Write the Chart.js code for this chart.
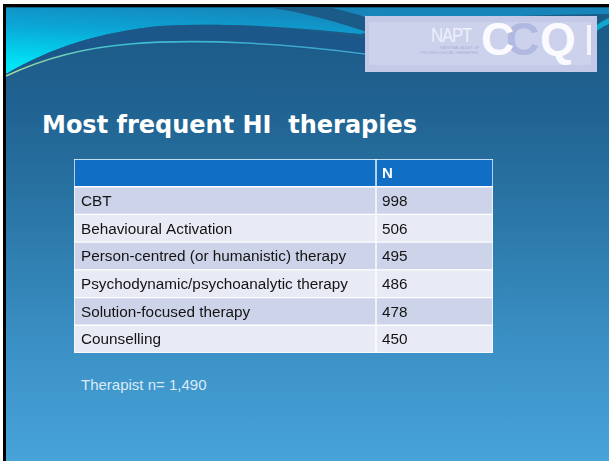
<!DOCTYPE html>
<html>
<head>
<meta charset="utf-8">
<script src="https://cdn.jsdelivr.net/npm/chart.js@4.4.1/dist/chart.umd.min.js"></script>
<style>
  html, body { margin:0; padding:0; background:#fff; width:609px; height:461px; overflow:hidden; }
  #bg { position:absolute; left:0; top:0; }
  #title { position:absolute; left:42px; top:110px; font-family:'DejaVu Sans', sans-serif; font-weight:bold; font-size:24px; line-height:30px; color:#fff; white-space:pre; }
  #foot { position:absolute; left:81px; top:376px; font-family:'Liberation Sans', Arial, sans-serif; font-size:15px; line-height:18px; color:#dbeaf6; white-space:pre; }
  #wrap { position:absolute; left:74px; top:159px; width:419px; height:194px; }
  .logo { position:absolute; font-family:'Liberation Sans', Arial, sans-serif; white-space:pre; }
</style>
</head>
<body>
<svg id="bg" width="609" height="461" viewBox="0 0 609 461">
  <defs>
    <linearGradient id="main" x1="0" y1="0" x2="0" y2="1">
      <stop offset="0" stop-color="#1b5a86"/>
      <stop offset="0.2" stop-color="#1f6190"/>
      <stop offset="0.45" stop-color="#2a76a6"/>
      <stop offset="0.75" stop-color="#3b91c6"/>
      <stop offset="1" stop-color="#47a3d8"/>
    </linearGradient>
    <linearGradient id="cap" x1="0.45" y1="0" x2="0" y2="0.85">
      <stop offset="0" stop-color="#1784ba"/>
      <stop offset="0.45" stop-color="#0aa6d6"/>
      <stop offset="1" stop-color="#00e4f6"/>
    </linearGradient>
    <linearGradient id="line" x1="0" y1="0" x2="1" y2="0">
      <stop offset="0" stop-color="#a6dc98"/>
      <stop offset="0.3" stop-color="#40c0d0"/>
      <stop offset="1" stop-color="#3aa0c8"/>
    </linearGradient>
  </defs>
  <rect x="3" y="4" width="606" height="457" fill="#000"/>
  <rect x="6" y="7.5" width="603" height="454" fill="url(#main)"/>
  <!-- light cap above the arc -->
  <path d="M6,7.5 L609,7.5 L609,14 C520,14 420,20 360,34 C300,28 230,22 160,26 C100,32 50,48 6,74 Z" fill="url(#cap)"/>
  <!-- dark diagonal streak on top right -->
  <path d="M270,7.5 L330,7.5 C360,14 380,22 400,30 L372,34 C340,22 300,12 270,7.5 Z" fill="#1b5b88"/>
  <path d="M590,30 C598,24 604,20 609,18 L609,24 C604,26 598,30 592,34 Z" fill="#10a8d0"/>
  <!-- dark band under arc -->
  <path d="M6,74 C50,48 100,32 160,26 C230,22 300,28 365,38 L365,56 C280,44 180,40 110,46 C60,52 30,62 6,78 Z" fill="#1c578a" opacity="0.9"/>
  <!-- thin swoosh line -->
  <path d="M6,76 C40,60 80,48 130,44 C200,38 290,44 365,54" fill="none" stroke="url(#line)" stroke-width="1.6"/>
  <!-- logo box -->
  <rect x="365" y="16" width="232" height="56" fill="#c3c9e7"/>
  <rect x="369" y="22" width="222" height="43" fill="#ccd1ec"/>
</svg>
<div class="logo" style="left:431px;top:23px;font-size:21px;color:#eef0fa;letter-spacing:-1.5px;transform:scaleX(0.8);transform-origin:left top;">NAPT</div>
<div class="logo" style="left:440px;top:46px;font-size:4px;line-height:4px;color:#a7afd8;">NATIONAL AUDIT OF</div>
<div class="logo" style="left:420px;top:51px;font-size:4px;line-height:4px;color:#a7afd8;">PSYCHOLOGICAL THERAPIES</div>
<div class="logo" style="left:506px;top:13px;font-size:46px;line-height:52px;font-weight:bold;color:#b0b9e2;">C</div>
<div class="logo" style="left:481px;top:13px;font-size:46px;line-height:52px;font-weight:bold;color:#fbfbff;">C</div>
<div class="logo" style="left:540px;top:13px;font-size:46px;line-height:52px;font-weight:bold;color:#fbfbff;">Q</div>
<div class="logo" style="left:587px;top:25px;width:4px;height:30px;background:#f4f5fc;"></div>

<div id="title"></div>
<div id="wrap"><canvas id="c" width="419" height="194"></canvas></div>
<div id="foot"></div>

<script>
// ---- data ----
const titleText = 'Most frequent HI  therapies';
const columnHeaders = ['', 'N'];
const categories = [
  'CBT',
  'Behavioural Activation',
  'Person-centred (or humanistic) therapy',
  'Psychodynamic/psychoanalytic therapy',
  'Solution-focused therapy',
  'Counselling'
];
const counts = [998, 506, 495, 486, 478, 450];
const footnoteText = 'Therapist n= 1,490';

// ---- layout / style ----
document.getElementById('title').textContent = titleText;
document.getElementById('foot').textContent = footnoteText;

const rows = ['header'].concat(categories);
const SPLIT = 302 / 419;
const HEADER_COLOR = '#106fc5';
const ODD = '#cdd4e9', EVEN = '#e8ebf5';
const rowColors = rows.map((r, i) => i === 0 ? HEADER_COLOR : (i % 2 === 1 ? ODD : EVEN));

const tableText = {
  id: 'tableText',
  afterDatasetsDraw(chart) {
    const ctx = chart.ctx;
    const m0 = chart.getDatasetMeta(0), m1 = chart.getDatasetMeta(1);
    ctx.save();
    ctx.textBaseline = 'middle';
    ctx.textAlign = 'left';
    rows.forEach((r, i) => {
      const e0 = m0.data[i], e1 = m1.data[i];
      const x0 = Math.min(e0.x, e0.base) + 7;
      const x1 = Math.min(e1.x, e1.base) + 6;
      const y = e0.y + 1;
      if (i === 0) {
        ctx.fillStyle = '#ffffff';
        ctx.font = 'bold 15px "Liberation Sans", Arial, sans-serif';
        ctx.fillText(columnHeaders[0], x0, y);
        ctx.fillText(columnHeaders[1], x1, y);
      } else {
        ctx.fillStyle = '#141414';
        ctx.font = '15.3px "Liberation Sans", Arial, sans-serif';
        ctx.fillText(categories[i - 1], x0, y);
        ctx.fillText(String(counts[i - 1]), x1, y);
      }
    });
    ctx.restore();
  }
};

const common = {
  backgroundColor: rowColors,
  borderColor: '#ffffff',
  borderWidth: 1,
  borderSkipped: false,
  grouped: false,
  barPercentage: 1,
  categoryPercentage: 1
};

new Chart(document.getElementById('c'), {
  type: 'bar',
  data: {
    labels: rows,
    datasets: [
      Object.assign({ label: 'label', data: rows.map(() => [0, SPLIT]) }, common),
      Object.assign({ label: 'N', data: rows.map(() => [SPLIT, 1]) }, common)
    ]
  },
  options: {
    indexAxis: 'y',
    responsive: false,
    maintainAspectRatio: false,
    animation: false,
    layout: { padding: 0 },
    plugins: { legend: { display: false }, tooltip: { enabled: false }, title: { display: false } },
    scales: {
      x: { type: 'linear', min: 0, max: 1, display: false },
      y: { type: 'category', display: false, offset: true }
    }
  },
  plugins: [tableText]
});
</script>
</body>
</html>
